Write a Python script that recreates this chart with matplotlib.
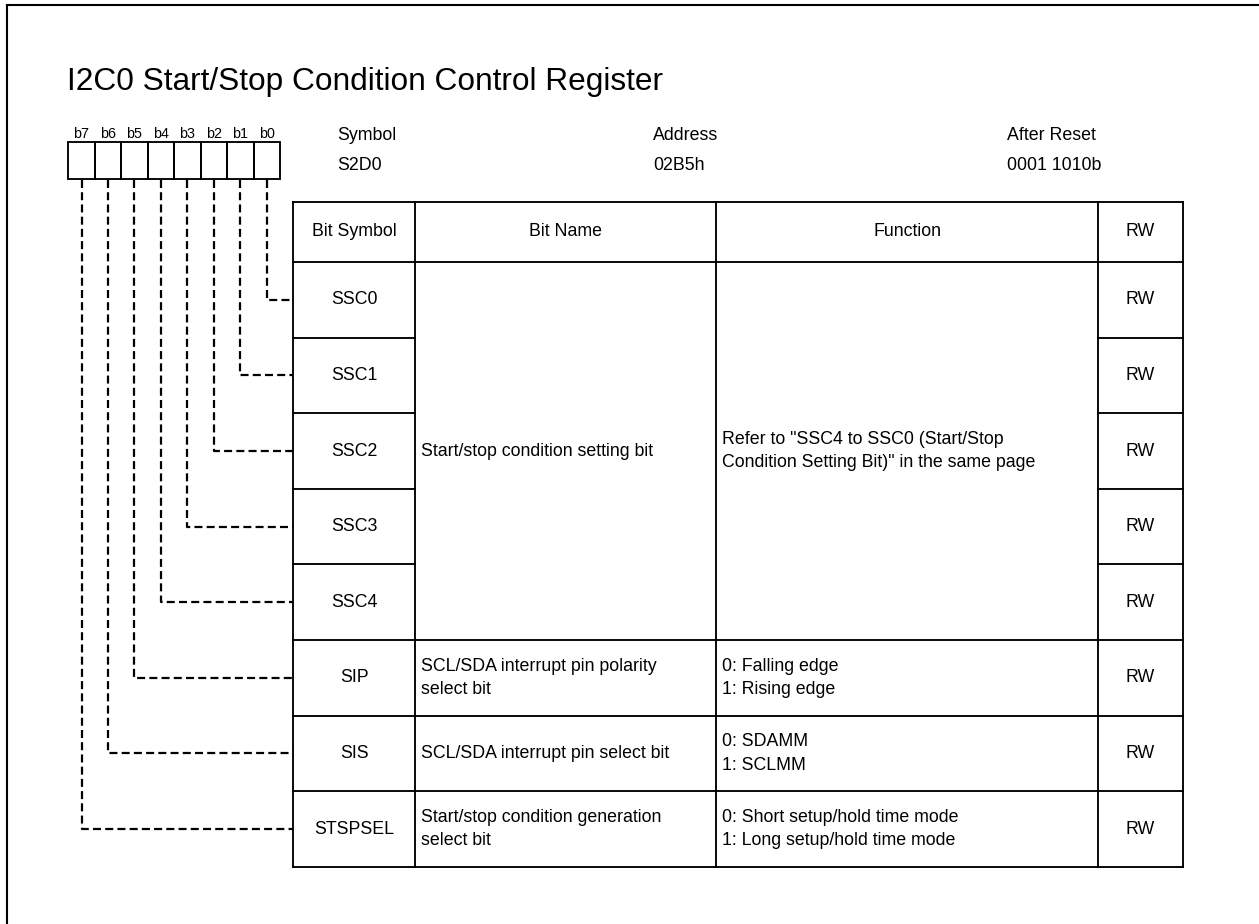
import matplotlib
matplotlib.use("Agg")
import matplotlib.pyplot as plt

plt.rcParams['font.family'] = ['Liberation Sans', 'DejaVu Sans']

title = "I2C0 Start/Stop Condition Control Register"
bit_labels = ["b7", "b6", "b5", "b4", "b3", "b2", "b1", "b0"]
info_headers = ["Symbol", "Address", "After Reset"]
info_values = ["S2D0", "02B5h", "0001 1010b"]
col_headers = ["Bit Symbol", "Bit Name", "Function", "RW"]
bit_symbols = ["SSC0", "SSC1", "SSC2", "SSC3", "SSC4", "SIP", "SIS", "STSPSEL"]
bit_numbers = [0, 1, 2, 3, 4, 5, 6, 7]
merged_name = "Start/stop condition setting bit"
merged_function = "Refer to \"SSC4 to SSC0 (Start/Stop\nCondition Setting Bit)\" in the same page"
merged_rows = 5
bit_names = ["SCL/SDA interrupt pin polarity\nselect bit",
             "SCL/SDA interrupt pin select bit",
             "Start/stop condition generation\nselect bit"]
functions = ["0: Falling edge\n1: Rising edge",
             "0: SDAMM\n1: SCLMM",
             "0: Short setup/hold time mode\n1: Long setup/hold time mode"]
rw = ["RW"] * 8

W, H = 1259, 924
fig = plt.figure(figsize=(W / 100, H / 100), dpi=100)
ax = fig.add_axes([0, 0, 1, 1])
ax.set_xlim(0, W)
ax.set_ylim(H, 0)
ax.axis('off')

FS = 12.8
LW = 1.35
LS = 1.5

# outer frame (top and left visible)
ax.plot([7, W + 5], [5, 5], color='black', lw=1.5)
ax.plot([7, 7], [5, H + 5], color='black', lw=1.5)

ax.text(67, 90, title, fontsize=22.8, va='baseline', ha='left')

# bit boxes
bx0, bw, by0, by1 = 68.3, 26.46, 142, 179
for i, lab in enumerate(bit_labels):
    x = bx0 + i * bw
    ax.add_patch(plt.Rectangle((x, by0), bw, by1 - by0, fill=False, lw=LW, ec='black'))
    ax.text(x + bw / 2, 138.5, lab, fontsize=10.3, ha='center', va='baseline')

# info
info_x = [337, 653, 1007]
for x, h, v in zip(info_x, info_headers, info_values):
    ax.text(x, 140, h, fontsize=FS, ha='left', va='baseline')
    ax.text(x, 170, v, fontsize=FS, ha='left', va='baseline')

# table geometry
cols = [293, 415.5, 716.5, 1098, 1183]
top, head_bot = 202, 262
row_h = 75.6
n = len(bit_symbols)
rows = [head_bot + i * row_h for i in range(n + 1)]
tbl_bot = rows[-1]

kw = dict(color='black', lw=LW, solid_capstyle='projecting')
ax.plot([cols[0], cols[-1]], [top, top], **kw)
ax.plot([cols[0], cols[-1]], [head_bot, head_bot], **kw)
ax.plot([cols[0], cols[-1]], [tbl_bot, tbl_bot], **kw)
for c in cols:
    ax.plot([c, c], [top, tbl_bot], **kw)
for i in range(1, n):
    y = rows[i]
    if i < merged_rows:
        ax.plot([cols[0], cols[1]], [y, y], **kw)
        ax.plot([cols[3], cols[4]], [y, y], **kw)
    else:
        ax.plot([cols[0], cols[4]], [y, y], **kw)

# headers
hy = (top + head_bot) / 2
for j, h in enumerate(col_headers):
    ax.text((cols[j] + cols[j + 1]) / 2, hy, h, fontsize=FS, ha='center', va='center')

# rows
for i, (sym, r) in enumerate(zip(bit_symbols, rw)):
    cy = (rows[i] + rows[i + 1]) / 2
    ax.text((cols[0] + cols[1]) / 2, cy, sym, fontsize=FS, ha='center', va='center')
    ax.text((cols[3] + cols[4]) / 2, cy, r, fontsize=FS, ha='center', va='center')

pad = 5.5
my = (rows[0] + rows[merged_rows]) / 2
ax.text(cols[1] + pad, my, merged_name, fontsize=FS, ha='left', va='center', linespacing=LS)
ax.text(cols[2] + pad, my, merged_function, fontsize=FS, ha='left', va='center', linespacing=LS)
for k, (nm, fn) in enumerate(zip(bit_names, functions)):
    i = merged_rows + k
    cy = (rows[i] + rows[i + 1]) / 2
    ax.text(cols[1] + pad, cy, nm, fontsize=FS, ha='left', va='center', linespacing=LS)
    ax.text(cols[2] + pad, cy, fn, fontsize=FS, ha='left', va='center', linespacing=LS)

# dashed leader lines
dash = dict(color='black', lw=1.6, linestyle=(0, (3.6, 1.9)))
for pos, bitno in enumerate(bit_numbers):
    box_index = 7 - bitno
    x = bx0 + box_index * bw + bw / 2
    cy = (rows[pos] + rows[pos + 1]) / 2
    ax.plot([x, x, cols[0]], [by1 + 1, cy, cy], **dash)

fig.savefig("out.png", dpi=100)
